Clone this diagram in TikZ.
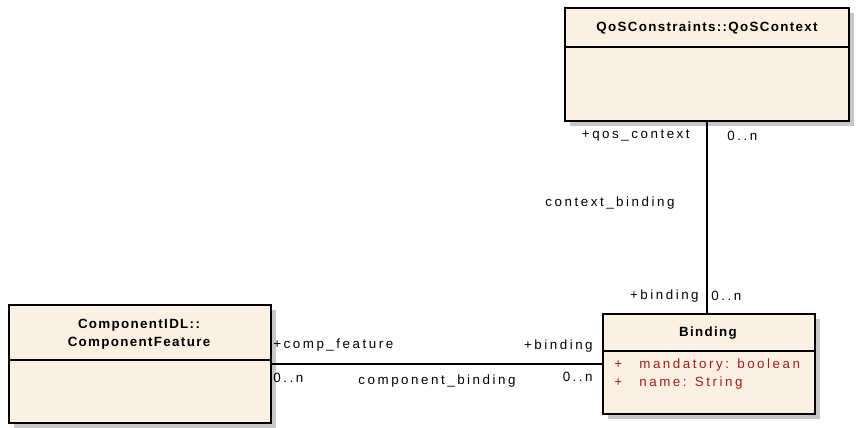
\documentclass[tikz,border=0pt]{standalone}
\usepackage{fontspec}
\newfontfamily\umlfont[LetterSpace=19]{Liberation Sans}
\newfontfamily\umlhdrfont[LetterSpace=10]{Liberation Sans}
\usetikzlibrary{shadows,positioning}
\definecolor{boxfill}{RGB}{251,240,226}
\definecolor{attred}{RGB}{160,28,28}
\newcommand{\pxu}{0.02cm}

\begin{document}
\begin{tikzpicture}[x=0.02cm,y=-0.02cm,
	umlbox/.style={draw,line width=1.1pt,fill=boxfill,anchor=north west,inner sep=0pt,
		drop shadow={shadow xshift=0.1cm,shadow yshift=-0.1cm,fill=black!22,opacity=1}},
	sepline/.style={line width=1pt},
	assoc/.style={line width=1.1pt},
	lbl/.style={font=\umlfont\fontsize{7.6}{9}\selectfont,inner sep=0pt},
	hdr/.style={font=\umlhdrfont\bfseries\fontsize{7.6}{10}\selectfont,inner sep=0pt},
	attr/.style={lbl,text=attred,anchor=west}]
		\useasboundingbox (0,0) rectangle (856,428);
		% classes
		\node[umlbox,minimum width=284*\pxu,minimum height=113*\pxu] (qos) at (564,7) {};
		\node[umlbox,minimum width=262*\pxu,minimum height=118*\pxu] (feature) at (8,304) {};
		\node[umlbox,minimum width=212*\pxu,minimum height=100*\pxu] (binding) at (602,313) {};
		\draw[sepline] ([yshift=-40*\pxu]qos.north west) -- ([yshift=-40*\pxu]qos.north east);
		\draw[sepline] ([yshift=-56*\pxu]feature.north west) -- ([yshift=-56*\pxu]feature.north east);
		\draw[sepline] ([yshift=-38*\pxu]binding.north west) -- ([yshift=-38*\pxu]binding.north east);
		\node[hdr] (qosname) at (707,28) {QoSConstraints::QoSContext};
		\node[hdr,align=center] (featurename) at (139,334) {ComponentIDL::\\ComponentFeature};
		\node[hdr] (bindingname) at (708,333) {Binding};
		\node[attr] (plusa) at (614,365) {+};
		\node[attr] (mandatory) at (639,365) {mandatory: boolean};
		\node[attr] (plusb) at (614,383) {+};
		\node[attr] (name) at (639,383) {name: String};
		% associations
		\draw[assoc] (qos.south) -- (qos.south |- binding.north);
		\draw[assoc] (feature.east) -- (feature.east -| binding.west);
		\node[lbl,anchor=east] (qosrole) at (690,136) {+qos\_context};
		\node[lbl,anchor=west] (qosmult) at (727,136) {0..n};
		\node[lbl] (ctxname) at (610,203) {context\_binding};
		\node[lbl,anchor=east] (bindrolea) at (699,296) {+binding};
		\node[lbl,anchor=west] (bindmulta) at (711,296) {0..n};
		\node[lbl,anchor=west] (featrole) at (273,345) {+comp\_feature};
		\node[lbl,anchor=west] (featmult) at (273,378) {0..n};
		\node[lbl] (compname) at (437,381) {component\_binding};
		\node[lbl,anchor=east] (bindroleb) at (593,346) {+binding};
		\node[lbl,anchor=east] (bindmultb) at (593,377) {0..n};
	\end{tikzpicture}
\end{document}
